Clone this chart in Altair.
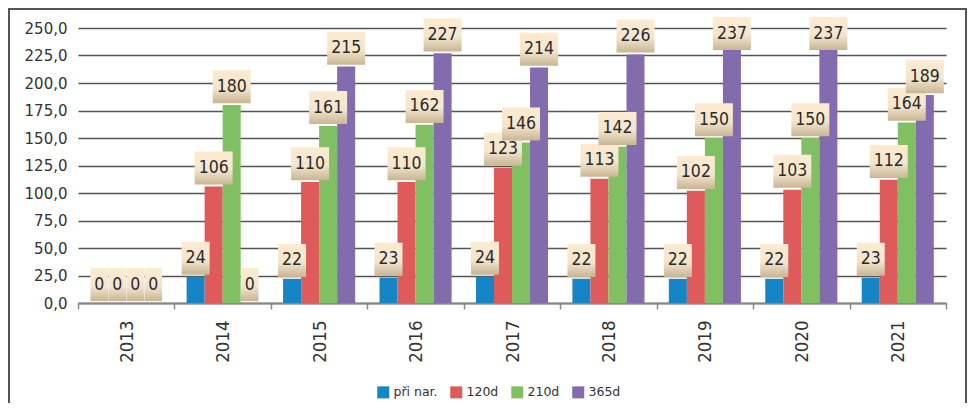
import altair as alt
import pandas as pd

years = ["2013", "2014", "2015", "2016", "2017", "2018", "2019", "2020", "2021"]
series = ["při nar.", "120d", "210d", "365d"]
pri_nar = [0, 24, 22, 23, 24, 22, 22, 22, 23]
d120 = [0, 106, 110, 110, 123, 113, 102, 103, 112]
d210 = [0, 180, 161, 162, 146, 142, 150, 150, 164]
d365 = [0, 0, 215, 227, 214, 226, 237, 237, 189]
colors = ["#1585c5", "#df5a5b", "#80c062", "#836cad"]
y_ticks = [0, 25, 50, 75, 100, 125, 150, 175, 200, 225, 250]

rows = []
for i, yr in enumerate(years):
    for s, vals in zip(series, [pri_nar, d120, d210, d365]):
        rows.append({"year": yr, "series": s, "value": vals[i]})
df = pd.DataFrame(rows)

W, H = 868, 275
FONT = "DejaVu Sans"
CFONT = "DejaVu Sans Condensed, DejaVu Sans"

x_axis = alt.Axis(title=None, labelAngle=-90, tickBand="extent", labelFont=CFONT,
                  labelFontSize=18.5, labelColor="#333", labelPadding=11,
                  tickSize=6, tickColor="#888", tickWidth=1.5,
                  domainColor="#888", domainWidth=2, grid=False)
x_scale = alt.Scale(paddingInner=0, paddingOuter=0)
xo = alt.XOffset("series:N", sort=series,
                 scale=alt.Scale(domain=series, paddingInner=0, paddingOuter=0.675))
y_scale = alt.Scale(domain=[0, 250], nice=False)
y_axis = alt.Axis(title=None, values=y_ticks, grid=True, gridColor="#555", gridWidth=1.5,
                  domain=False, ticks=False, labelPadding=11, labelFont=FONT,
                  labelFontSize=15, labelColor="#333",
                  labelExpr="replace(format(datum.value, '.1f'), '.', ',')")

X = alt.X("year:N", sort=years, scale=x_scale, axis=x_axis)

bars = alt.Chart(df).mark_bar().encode(
    x=X,
    xOffset=xo,
    y=alt.Y("value:Q", scale=y_scale, axis=y_axis),
    color=alt.Color("series:N", sort=series,
                    scale=alt.Scale(domain=series, range=colors),
                    legend=alt.Legend(title=None, orient="none", legendX=299, legendY=358,
                                      direction="horizontal", symbolType="square",
                                      symbolSize=144, symbolStrokeWidth=0,
                                      symbolOpacity=1, labelFont=FONT,
                                      labelFontSize=12.5, labelColor="#333",
                                      labelOffset=4, columnPadding=12, padding=0)),
)

grad = alt.Gradient(gradient="linear", x1=0, x2=0, y1=0, y2=1,
                    stops=[alt.GradientStop(color="#fdebcf", offset=0),
                           alt.GradientStop(color="#f3e6cf", offset=0.55),
                           alt.GradientStop(color="#c9b593", offset=1)])

paths = ["M-0.44,-0.825H0.44V0.825H-0.44Z",
         "M-0.7,-0.825H0.7V0.825H-0.7Z",
         "M-0.95,-0.825H0.95V0.825H-0.95Z"]

lab_base = alt.Chart(df).transform_calculate(
    ly="min(datum.value + 16.7, 245)",
    nd="toString(length(toString(datum.value)))",
)

boxes = lab_base.mark_point(filled=True, fill=grad, opacity=1, size=1600, strokeWidth=0).encode(
    x=X,
    xOffset=xo,
    y=alt.Y("ly:Q", scale=y_scale, axis=y_axis),
    shape=alt.Shape("nd:N", scale=alt.Scale(domain=["1", "2", "3"], range=paths), legend=None),
)

texts = lab_base.mark_text(font=CFONT, fontSize=17.5, color="#2a2a2a", baseline="middle",
                           align="center").encode(
    x=X,
    xOffset=xo,
    y=alt.Y("ly:Q", scale=y_scale, axis=y_axis),
    text=alt.Text("value:Q", format="d"),
)

frame = alt.Chart(pd.DataFrame({"a": [0]})).mark_rect(filled=False, stroke="#555", strokeWidth=2).encode(
    x=alt.value(-69), x2=alt.value(888), y=alt.value(-19), y2=alt.value(420)
)

chart = alt.layer(bars, boxes, texts, frame).properties(
    width=W, height=H,
    background="white",
    padding={"left": 70, "top": 20, "right": 22, "bottom": 100},
    autosize=alt.AutoSizeParams(type="none"),
).configure_view(stroke=None)

chart.save("out.html", embed_options={"renderer": "svg", "actions": False})
